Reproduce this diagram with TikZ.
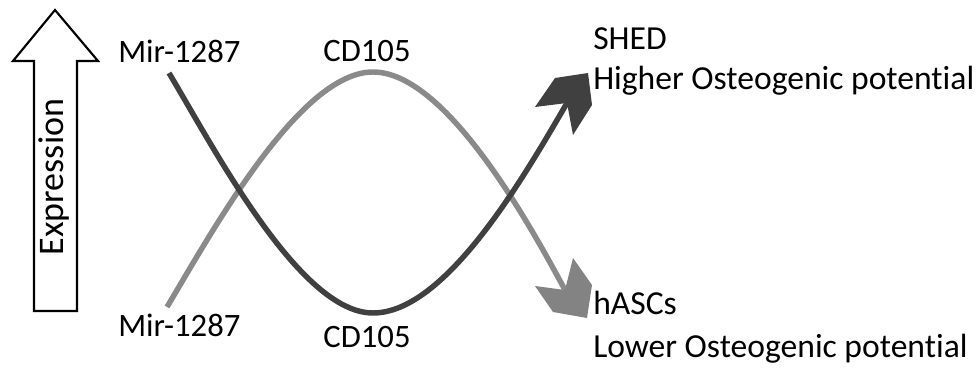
\documentclass[tikz,border=0pt]{standalone}
\usepackage{fontspec}
\setmainfont[Ligatures={NoCommon,NoContextual}]{Carlito}
\definecolor{darkcurve}{HTML}{404040}
\definecolor{lightcurve}{HTML}{8A8A8A}
\begin{document}
\begin{tikzpicture}[x=0.75pt,y=-0.75pt,
  lbl/.style={font=\fontsize{24.5}{28}\selectfont, inner sep=0pt, text=black},
  rlbl/.style={lbl, font=\fontsize{25.2}{29}\selectfont, anchor=base west},
  curve/.style={line width=4.1pt, line cap=butt},
  bigarrow/.style={draw=black, line width=1.6pt, fill=white, line join=miter}]
\useasboundingbox (0,0) rectangle (979,370);

% hollow "Expression" arrow
\draw[bigarrow] (55,10) -- (98,61) -- (77,61) -- (77,311) -- (34,311) -- (34,61) -- (13,61) -- cycle;
\node[lbl, font=\fontsize{27}{30}\selectfont, rotate=90, anchor=base] (expr) at (63,177) {Expression};

% labels
\node[lbl, anchor=base west] (mirtop) at (118,63) {Mir-1287};
\node[lbl, anchor=base west] (mirbot) at (118,337) {Mir-1287};
\node[lbl, anchor=base] (cdtop) at (367,62) {CD105};
\node[lbl, anchor=base] (cdbot) at (367,348) {CD105};
\node[rlbl] (shed) at (593,50) {SHED};
\node[rlbl] (higher) at (593,90) {Higher Osteogenic potential};
\node[rlbl] (hascs) at (593,315) {hASCs};
\node[rlbl] (lower) at (593,358) {Lower Osteogenic potential};

% curve end points
\coordinate (ls) at (167,307);
\coordinate (lmax) at (373,72);
\coordinate (lend) at (565,290);
\coordinate (ds) at (169,73);
\coordinate (dmin) at (373,313);
\coordinate (dend) at (567,103);

% light curve: low to high, then down to hASCs
\draw[curve, lightcurve] (ls) .. controls (213,230) and (300,72) .. (lmax)
  .. controls (446,72) and (530,225) .. (lend);
\fill[lightcurve!95!black] (lend) -- (573,258) -- (592,285) -- (587,318) -- (553,312) -- (535,286) -- cycle;

% dark curve: high to low, then up to SHED
\draw[curve, darkcurve] (ds) .. controls (215,150) and (300,313) .. (dmin)
  .. controls (446,313) and (525,175) .. (dend);
\fill[darkcurve] (dend) -- (535,107) -- (555,78) -- (588,73) -- (592,105) -- (573,135) -- cycle;
\end{tikzpicture}
\end{document}
